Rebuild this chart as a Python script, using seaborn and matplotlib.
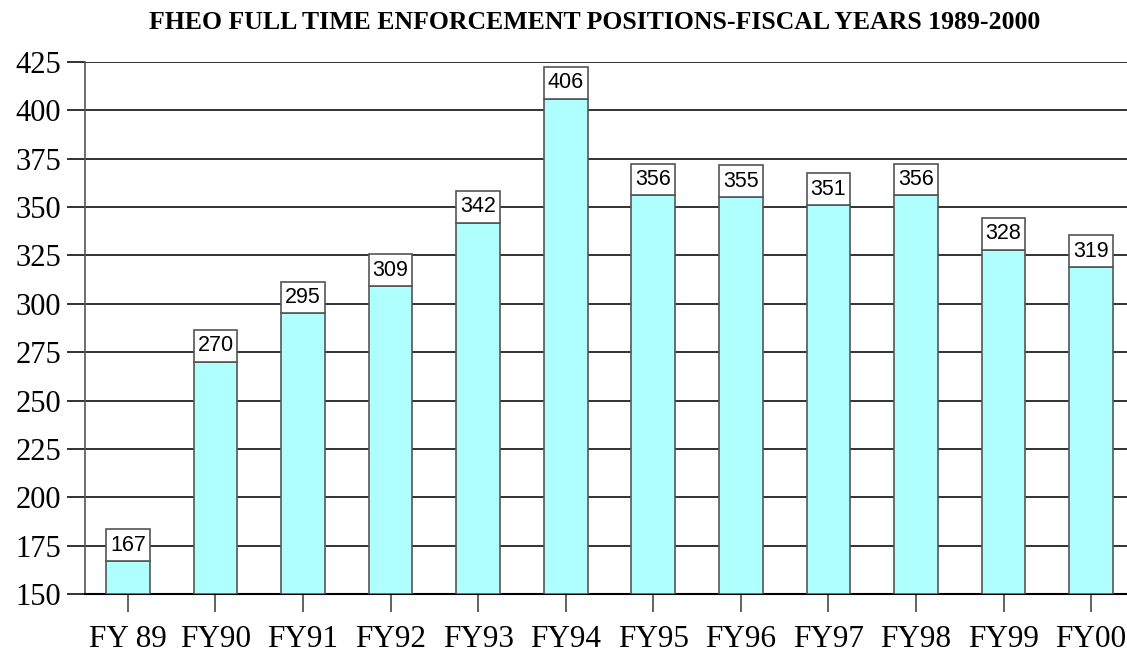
import matplotlib
matplotlib.use('Agg')
import matplotlib.pyplot as plt
import seaborn as sns
import pandas as pd
import numpy as np

sns.set_style('white')

years = ['FY 89', 'FY90', 'FY91', 'FY92', 'FY93', 'FY94',
         'FY95', 'FY96', 'FY97', 'FY98', 'FY99', 'FY00']
positions = [167, 270, 295, 309, 342, 406, 356, 355, 351, 356, 328, 319]
y_ticks = [150, 175, 200, 225, 250, 275, 300, 325, 350, 375, 400, 425]

df = pd.DataFrame({'year': years, 'positions': positions})

fig = plt.figure(figsize=(11.27, 6.56), dpi=100)
ax = fig.add_axes([0.0754, 0.0945, 0.9246, 0.811])

# value bars (start at the axis floor of 150)
base = 150
sns.barplot(x=df['year'], y=df['positions'] - base, bottom=base, color='#AFFFFF',
            edgecolor='#555555', linewidth=1.2, width=0.5, saturation=1, ax=ax, zorder=3)

# white label boxes sitting on top of each bar
box_h = 16.5
ax.bar(np.arange(len(years)), [box_h] * len(years), bottom=df['positions'], width=0.5,
       color='white', edgecolor='#555555', linewidth=1.2, zorder=3)
for i, v in enumerate(positions):
    ax.text(i, v + box_h / 2, str(v), ha='center', va='center', fontsize=15.5,
            family='Liberation Sans', color='black', zorder=4)

ax.set_ylim(150, 425)
ax.set_xlim(-0.49, 11.41)
ax.set_yticks(y_ticks)
ax.yaxis.grid(True, color='#222222', linewidth=1.3, zorder=0)
ax.set_axisbelow(True)

for s in ['top', 'right']:
    ax.spines[s].set_visible(False)
ax.spines['left'].set_color('#555555')
ax.spines['left'].set_linewidth(1.2)
ax.spines['bottom'].set_color('black')
ax.spines['bottom'].set_linewidth(1.5)

ax.tick_params(axis='y', direction='out', length=13, width=1.3, color='#222222',
               labelsize=22, labelcolor='black', pad=4, left=True)
ax.tick_params(axis='x', direction='out', length=13, width=1.3, color='#555555',
               labelsize=22.5, labelcolor='black', pad=9, bottom=True)
for lbl in ax.get_yticklabels() + ax.get_xticklabels():
    lbl.set_family('Liberation Serif')

ax.set_xlabel('')
ax.set_ylabel('')
fig.text(0.528, 0.965, 'FHEO FULL TIME ENFORCEMENT POSITIONS-FISCAL YEARS 1989-2000',
         ha='center', va='center', fontsize=18.5, fontweight='bold',
         family='Liberation Serif', color='black')

fig.savefig('out.png', dpi=100)
